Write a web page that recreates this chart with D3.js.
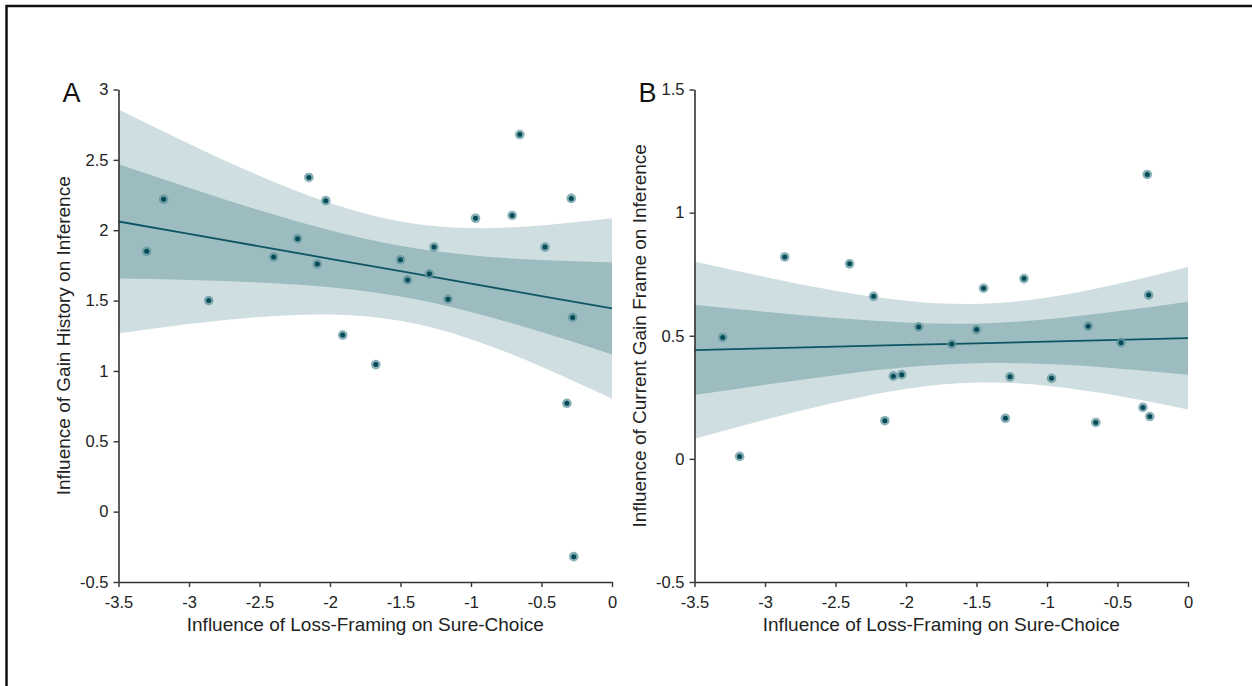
<!DOCTYPE html>
<html>
<head>
<meta charset="utf-8">
<script src="https://cdn.jsdelivr.net/npm/d3@7"></script>
<style>
  html, body { margin: 0; padding: 0; background: #fff; }
  svg { display: block; font-family: "Liberation Sans", Arial, sans-serif; }
</style>
</head>
<body>
<div id="chart"></div>
<script>
// Loss-framing influence vs. gain history (A) and current gain frame (B)
// x values are shared by both panels (same participants)
const lossFraming = [-3.30, -3.18, -2.86, -2.40, -2.23, -2.15, -2.09, -2.03, -1.91, -1.675, -1.50, -1.45,
  -1.295, -1.262, -1.163, -0.968, -0.708, -0.654, -0.475, -0.32, -0.289, -0.279, -0.271];
const gainHistory = [1.85, 2.22, 1.50, 1.81, 1.94, 2.375, 1.76, 2.21, 1.255, 1.045, 1.79, 1.647,
  1.69, 1.88, 1.51, 2.085, 2.105, 2.68, 1.88, 0.77, 2.226, 1.38, -0.32];
const gainFrame = [0.493, 0.01, 0.82, 0.792, 0.66, 0.155, 0.336, 0.342, 0.536, 0.466, 0.525, 0.693,
  0.165, 0.333, 0.732, 0.327, 0.539, 0.148, 0.472, 0.209, 1.155, 0.665, 0.172];

// fitted line and confidence bands, read at these x positions
const bandX = [-3.5, -3, -2.5, -2, -1.5, -1, -0.5, 0];
const fitA = [2.062, 1.974, 1.885, 1.797, 1.709, 1.620, 1.532, 1.444];
const innerHiA = [2.468, 2.301, 2.141, 1.999, 1.889, 1.822, 1.788, 1.771];
const innerLoA = [1.656, 1.647, 1.629, 1.595, 1.529, 1.419, 1.276, 1.117];
const outerHiA = [2.858, 2.615, 2.387, 2.193, 2.062, 2.015, 2.034, 2.085];
const outerLoA = [1.266, 1.333, 1.383, 1.401, 1.356, 1.225, 1.030, 0.803];
const fitB = [0.442, 0.449, 0.456, 0.463, 0.469, 0.476, 0.483, 0.490];
const innerHiB = [0.626, 0.597, 0.572, 0.554, 0.550, 0.567, 0.599, 0.638];
const innerLoB = [0.259, 0.301, 0.340, 0.372, 0.388, 0.385, 0.367, 0.342];
const outerHiB = [0.802, 0.739, 0.683, 0.642, 0.629, 0.655, 0.710, 0.779];
const outerLoB = [0.082, 0.159, 0.229, 0.284, 0.310, 0.297, 0.256, 0.201];

const xTicks = [-3.5, -3, -2.5, -2, -1.5, -1, -0.5, 0];
const yTicksA = [-0.5, 0, 0.5, 1, 1.5, 2, 2.5, 3];
const yTicksB = [-0.5, 0, 0.5, 1, 1.5];

const xTitle = 'Influence of Loss-Framing on Sure-Choice';

const W = 1252, H = 686;
const svg = d3.select('#chart').append('svg')
  .attr('width', W)
  .attr('height', H);

// frame around the figure (only top and left edges are in view)
svg.append('rect')
  .attr('x', 6.5).attr('y', 6)
  .attr('width', 1400).attr('height', 900)
  .attr('fill', 'none')
  .attr('stroke', '#111')
  .attr('stroke-width', 2.5);

const panels = [
  {letter: 'A', left: 118.5, y: gainHistory, yDomain: [-0.5, 3], yTicks: yTicksA,
   yTitle: 'Influence of Gain History on Inference',
   fit: fitA, innerHi: innerHiA, innerLo: innerLoA, outerHi: outerHiA, outerLo: outerLoA},
  {letter: 'B', left: 694.5, y: gainFrame, yDomain: [-0.5, 1.5], yTicks: yTicksB,
   yTitle: 'Influence of Current Gain Frame on Inference',
   fit: fitB, innerHi: innerHiB, innerLo: innerLoB, outerHi: outerHiB, outerLo: outerLoB}
];

const plotTop = 89.5, plotBottom = 582, pw = 493.5;

panels.forEach(p => {
  const g = svg.append('g').attr('transform', `translate(${p.left},0)`);
  const x = d3.scaleLinear().domain([-3.5, 0]).range([0, pw]);
  const y = d3.scaleLinear().domain(p.yDomain).range([plotBottom, plotTop]);

  const band = (hi, lo) => d3.area()
    .x((d, i) => x(bandX[i]))
    .y0((d, i) => y(lo[i]))
    .y1((d, i) => y(hi[i]))
    .curve(d3.curveNatural)(bandX);

  // 95% band (light) then 68% band (darker)
  g.append('path').attr('d', band(p.outerHi, p.outerLo)).attr('fill', '#cfdfe1');
  g.append('path').attr('d', band(p.innerHi, p.innerLo)).attr('fill', '#9dbcc0');

  g.append('path')
    .attr('d', d3.line().x((d, i) => x(bandX[i])).y((d, i) => y(p.fit[i]))(bandX))
    .attr('fill', 'none')
    .attr('stroke', '#0d5563')
    .attr('stroke-width', 1.8);

  // points: soft halo + dark centre
  const pts = lossFraming.map((v, i) => ({x: v, y: p.y[i]}));
  g.selectAll('.halo').data(pts).enter().append('circle')
    .attr('class', 'halo')
    .attr('cx', d => x(d.x)).attr('cy', d => y(d.y))
    .attr('r', 4.8)
    .attr('fill', '#5f949c')
    .attr('fill-opacity', 0.75);
  g.selectAll('.dot').data(pts).enter().append('circle')
    .attr('class', 'dot')
    .attr('cx', d => x(d.x)).attr('cy', d => y(d.y))
    .attr('r', 2.5)
    .attr('fill', '#054b57');

  // axes
  const fmt = d => String(d);
  const xa = g.append('g')
    .attr('transform', `translate(0,${plotBottom})`)
    .call(d3.axisBottom(x).tickValues(xTicks).tickFormat(fmt).tickSize(5).tickSizeOuter(0));
  const ya = g.append('g')
    .call(d3.axisLeft(y).tickValues(p.yTicks).tickFormat(fmt).tickSize(5).tickSizeOuter(0));
  [xa, ya].forEach(a => {
    a.select('.domain').attr('stroke', '#333').attr('stroke-width', 1.6);
    a.selectAll('.tick line').attr('stroke', '#333').attr('stroke-width', 1.4);
    a.selectAll('.tick text')
      .attr('fill', '#222')
      .style('font-size', '16.5px')
      .style('font-family', '"Liberation Sans", Arial, sans-serif');
  });
  xa.selectAll('.tick text').attr('y', 14.5);
  ya.selectAll('.tick text').attr('x', -10);

  // titles
  g.append('text')
    .attr('x', pw / 2).attr('y', 631)
    .attr('text-anchor', 'middle')
    .attr('fill', '#222')
    .style('font-size', '19px')
    .text(xTitle);
  g.append('text')
    .attr('transform', `translate(${-48.5},${(plotTop + plotBottom) / 2}) rotate(-90)`)
    .attr('text-anchor', 'middle')
    .attr('fill', '#222')
    .style('font-size', '19px')
    .text(p.yTitle);

  // panel letter
  g.append('text')
    .attr('x', -38).attr('y', 101.5)
    .attr('text-anchor', 'end')
    .attr('fill', '#111')
    .style('font-size', '27px')
    .text(p.letter);
});
</script>
</body>
</html>
